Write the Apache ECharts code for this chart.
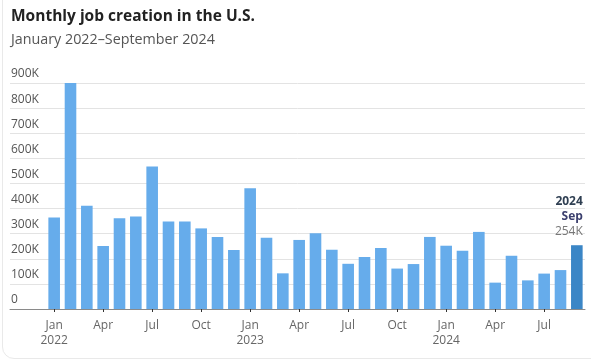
<!DOCTYPE html>
<html>
<head>
<meta charset="utf-8">
<script src="https://cdn.jsdelivr.net/npm/echarts@6/dist/echarts.min.js"></script>
<style>
html,body{margin:0;padding:0;background:#fff;overflow:hidden;}
#card{position:absolute;left:2px;top:-20px;width:640px;height:379px;border:1px solid #e9e9e9;border-radius:12px;box-sizing:border-box;}
#chart{position:absolute;left:0;top:0;width:591px;height:362px;}
</style>
</head>
<body>
<div id="card"></div>
<div id="chart"></div>
<script>
// Data (thousands of jobs)
const months = ['Jan','Feb','Mar','Apr','May','Jun','Jul','Aug','Sep','Oct','Nov','Dec',
  'Jan','Feb','Mar','Apr','May','Jun','Jul','Aug','Sep','Oct','Nov','Dec',
  'Jan','Feb','Mar','Apr','May','Jun','Jul','Aug','Sep'];
const years = ['2022','','','','','','','','','','','',
  '2023','','','','','','','','','','','',
  '2024','','','','','','','',''];
const jobs = [364, 904, 411, 251, 361, 368, 567, 348, 348, 321, 287, 235,
  481, 284, 142, 275, 302, 236, 180, 207, 243, 161, 179, 287,
  252, 232, 307, 105, 212, 114, 141, 155, 254];
const yTicks = [0, 100, 200, 300, 400, 500, 600, 700, 800, 900];

const FONT = '"Open Sans", "Noto Sans", sans-serif';
const categories = months.map((m, i) => m + '|' + years[i]);
const last = jobs.length - 1;

const barData = jobs.map((v, i) => {
  if (i !== last) return v;
  return {
    value: v,
    itemStyle: { color: '#3b86c6' },
    label: {
      show: true,
      position: 'top',
      distance: 6,
      align: 'right',
      offset: [6, 0],
      formatter: () => '{y|' + years[24] + '}\n{m|' + months[i] + '}\n{v|' + v + 'K}',
      rich: {
        y: { fontFamily: FONT, fontSize: 12, fontWeight: 'bold', color: '#2f3f52', lineHeight: 15, align: 'right' },
        m: { fontFamily: FONT, fontSize: 12, fontWeight: 'bold', color: '#3b3f6e', lineHeight: 15, align: 'right' },
        v: { fontFamily: FONT, fontSize: 12, color: '#777', lineHeight: 15, align: 'right' }
      }
    }
  };
});

const chart = echarts.init(document.getElementById('chart'), null, { renderer: 'canvas' });
chart.setOption({
  animation: false,
  backgroundColor: 'transparent',
  title: {
    text: 'Monthly job creation in the U.S.',
    subtext: 'January 2022\u2013September 2024',
    left: 11,
    top: 9,
    padding: 0,
    itemGap: 8,
    textStyle: { fontFamily: FONT, fontSize: 15.5, fontWeight: 'bold', color: '#222' },
    subtextStyle: { fontFamily: FONT, fontSize: 14.3, color: '#555' }
  },
  grid: [
    { left: 46, right: 6, top: 83, bottom: 53 },
    { left: 10, right: 6, top: 83, bottom: 53 }
  ],
  xAxis: [
    {
      type: 'category',
      gridIndex: 0,
      data: categories,
      axisLine: { show: false },
      axisTick: { show: true, interval: 2, alignWithLabel: true, length: 3, lineStyle: { color: '#333' } },
      axisLabel: {
        interval: 2,
        margin: 9,
        fontFamily: FONT,
        fontSize: 12,
        color: '#666',
        lineHeight: 15,
        formatter: (val) => { const p = val.split('|'); return p[1] ? p[0] + '\n' + p[1] : p[0]; }
      }
    },
    {
      type: 'value',
      gridIndex: 1,
      min: 0,
      max: 1,
      axisLine: { show: true, onZero: false, lineStyle: { color: '#8a8a8a', width: 1 } },
      axisTick: { show: false },
      axisLabel: { show: false },
      splitLine: { show: false }
    }
  ],
  yAxis: [
    {
      type: 'value',
      gridIndex: 0,
      min: 0,
      max: 900,
      interval: 100,
      show: false
    },
    {
      type: 'value',
      gridIndex: 1,
      min: 0,
      max: 900,
      interval: 100,
      axisLine: { show: false },
      axisTick: { show: false },
      splitLine: { show: true, lineStyle: { color: '#e3e3e3', width: 1 } },
      axisLabel: {
        inside: true,
        margin: 1,
        verticalAlign: 'bottom',
        padding: [0, 0, 3, 0],
        fontFamily: FONT,
        fontSize: 12,
        color: '#555',
        formatter: (v) => { const t = yTicks.find(x => x === v); return t === 0 ? '0' : t + 'K'; }
      }
    }
  ],
  series: [
    {
      type: 'bar',
      xAxisIndex: 0,
      yAxisIndex: 0,
      data: barData,
      barWidth: '71%',
      itemStyle: { color: '#66aceb' },
      z: 3
    }
  ]
});
</script>
</body>
</html>
